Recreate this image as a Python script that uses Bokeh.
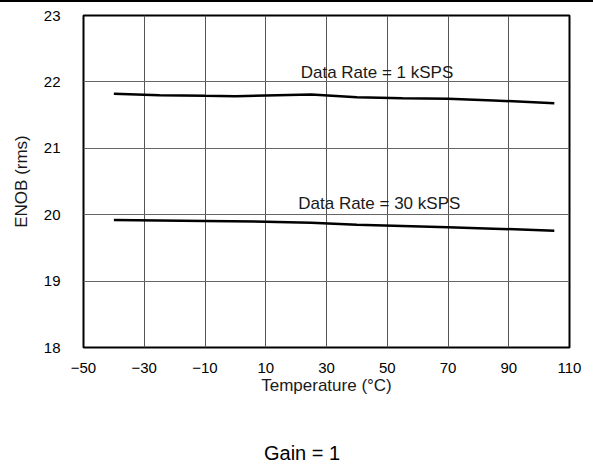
from bokeh.plotting import figure
from bokeh.models import FixedTicker, Label, Range1d, Div
from bokeh.layouts import column
from bokeh.embed import file_html
from bokeh.resources import INLINE

# Data
temp_1k = [-40, -25, -10, 0, 10, 25, 40, 55, 70, 85, 105]
enob_1k = [21.82, 21.80, 21.79, 21.785, 21.795, 21.81, 21.77, 21.755, 21.745, 21.72, 21.68]
temp_30k = [-40, -25, -10, 10, 25, 40, 55, 70, 85, 105]
enob_30k = [19.92, 19.912, 19.905, 19.895, 19.88, 19.85, 19.83, 19.81, 19.79, 19.76]

x_ticks = [-50, -30, -10, 10, 30, 50, 70, 90, 110]
x_tick_labels = ["\u221250", "\u221230", "\u221210", "10", "30", "50", "70", "90", "110"]
y_ticks = [18, 19, 20, 21, 22, 23]
y_tick_labels = ["18", "19", "20", "21", "22", "23"]

label_1k = "Data Rate = 1 kSPS"
label_30k = "Data Rate = 30 kSPS"
footer = "Gain = 1"

FONT = "Liberation Sans"

top_rule = Div(width=593, height=2, margin=(0, 0, 0, 0), text="",
               styles={"background-color": "#000000"})

p = figure(width=593, height=418, output_backend="svg", toolbar_location=None,
           x_range=Range1d(-50, 110), y_range=Range1d(18, 23),
           min_border_left=83, min_border_right=24, min_border_top=13, min_border_bottom=73,
           margin=(0, 0, 0, 0))

p.outline_line_color = "black"
p.outline_line_width = 2
p.background_fill_color = "white"
p.border_fill_color = "white"

p.xaxis.ticker = FixedTicker(ticks=x_ticks)
p.yaxis.ticker = FixedTicker(ticks=y_ticks)
p.xaxis.major_label_overrides = {t: l for t, l in zip(x_ticks, x_tick_labels)}
p.yaxis.major_label_overrides = {t: l for t, l in zip(y_ticks, y_tick_labels)}

for ax in (p.xaxis[0], p.yaxis[0]):
    ax.axis_line_color = None
    ax.major_tick_line_color = None
    ax.minor_tick_line_color = None
    ax.major_label_text_font = FONT
    ax.major_label_text_font_size = "15px"
    ax.major_label_text_color = "black"
    ax.axis_label_text_font = FONT
    ax.axis_label_text_font_size = "17px"
    ax.axis_label_text_font_style = "normal"
    ax.axis_label_text_color = "#1a1a1a"

p.xaxis.axis_label = "Temperature (\u00b0C)"
p.yaxis.axis_label = "ENOB (rms)"
p.xaxis.major_label_standoff = 9
p.yaxis.major_label_standoff = 17
p.xaxis.axis_label_standoff = 0
p.yaxis.axis_label_standoff = 10

p.xgrid.grid_line_color = "#555555"
p.ygrid.grid_line_color = "#666666"
p.xgrid.grid_line_width = 1
p.ygrid.grid_line_width = 1

p.line(temp_1k, enob_1k, line_color="black", line_width=2.5)
p.line(temp_30k, enob_30k, line_color="black", line_width=2.5)

p.add_layout(Label(x=21.5, y=22.145, text=label_1k, text_font=FONT, text_font_size="17px",
                   text_color="#1a1a1a", text_baseline="alphabetic"))
p.add_layout(Label(x=20.7, y=20.175, text=label_30k, text_font=FONT, text_font_size="17px",
                   text_color="#1a1a1a", text_baseline="alphabetic"))

footer_div = Div(text=footer, width=120, height=24, margin=(22, 0, 0, 264),
                 styles={"font-family": "Liberation Sans", "font-size": "20px",
                         "color": "#000000", "line-height": "23px"})

layout = column(top_rule, p, footer_div, spacing=0, margin=(0, 0, 0, 0))
open("out.html", "w").write(file_html(layout, INLINE))
